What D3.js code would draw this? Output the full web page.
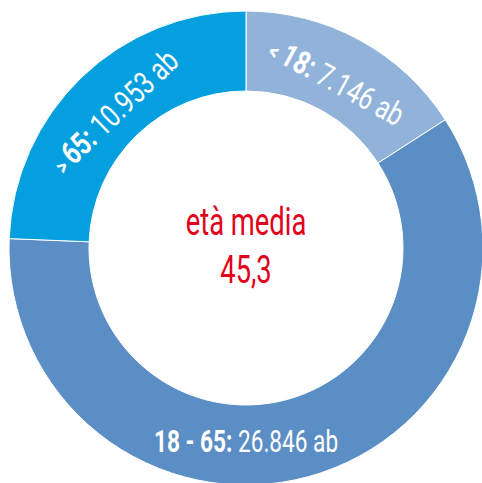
<!DOCTYPE html>
<html>
<head>
<meta charset="utf-8">
<script src="https://cdn.jsdelivr.net/npm/d3@7"></script>
<style>
  body { margin: 0; background: #fff; }
  svg text { font-family: Roboto, "Liberation Sans", sans-serif; }
</style>
</head>
<body>
<script>
// age groups, population (ab = abitanti)
var symbols = ["<", "", ">"];
var groups = ["18:", "18 - 65:", "65:"];
var values = [7146, 26846, 10953];
var valueLabels = ["7.146 ab", "26.846 ab", "10.953 ab"];
var colors = ["#91b3d9", "#5b8ec4", "#039fdf"];
var centerTitle = "età media";
var centerValue = "45,3";

var width = 482, height = 483;
var cx = 246, cy = 248;
var outerR = 237, innerR = 157, labelR = 190;

var svg = d3.select("body")
    .append("svg")
    .attr("width", width)
    .attr("height", height);

var g = svg.append("g")
    .attr("transform", "translate(" + cx + "," + cy + ")");

var pie = d3.pie().sort(null).value(function (d) { return d; });
var arcs = pie(values);

var arc = d3.arc().innerRadius(innerR).outerRadius(outerR);

g.selectAll("path.slice")
    .data(arcs)
    .enter()
    .append("path")
    .attr("class", "slice")
    .attr("d", arc)
    .style("fill", function (d, i) { return colors[i]; })
    .style("stroke", "#fff")
    .style("stroke-width", 1);

// labels: rotated along the ring, the big middle one flat at the bottom
var labels = g.selectAll("g.lbl")
    .data(arcs)
    .enter()
    .append("g")
    .attr("class", "lbl")
    .attr("transform", function (d, i) {
        var a = (d.startAngle + d.endAngle) / 2;
        var deg = a * 180 / Math.PI;
        var r = labelR;
        if (i === 1) { a = Math.PI; deg = 0; r = 193; }
        var x = r * Math.sin(a), y = -r * Math.cos(a);
        var sx = i === 1 ? 0.73 : 0.76;
        return "translate(" + x + "," + y + ") rotate(" + deg + ") scale(" + sx + ",1)";
    });

var txt = labels.append("text")
    .attr("text-anchor", "middle")
    .attr("dy", "0.36em")
    .style("fill", "#fff")
    .style("font-size", function (d, i) { return i === 1 ? "31px" : "32px"; });

txt.append("tspan")
    .style("font-weight", "bold")
    .style("font-size", "23px")
    .text(function (d, i) { return symbols[i] ? symbols[i] + " " : ""; });

txt.append("tspan")
    .style("font-weight", "bold")
    .text(function (d, i) { return groups[i] + " "; });

txt.append("tspan")
    .style("font-weight", "normal")
    .text(function (d, i) { return valueLabels[i]; });

// centre text
var center = g.append("g");
center.append("text")
    .attr("text-anchor", "middle")
    .attr("transform", "translate(0,-13) scale(0.72,1)")
    .style("fill", "#e2001a")
    .style("font-size", "38px")
    .text(centerTitle);

center.append("text")
    .attr("text-anchor", "middle")
    .attr("transform", "translate(0,35) scale(0.7,1)")
    .style("fill", "#e2001a")
    .style("font-size", "39px")
    .text(centerValue);
</script>
</body>
</html>
